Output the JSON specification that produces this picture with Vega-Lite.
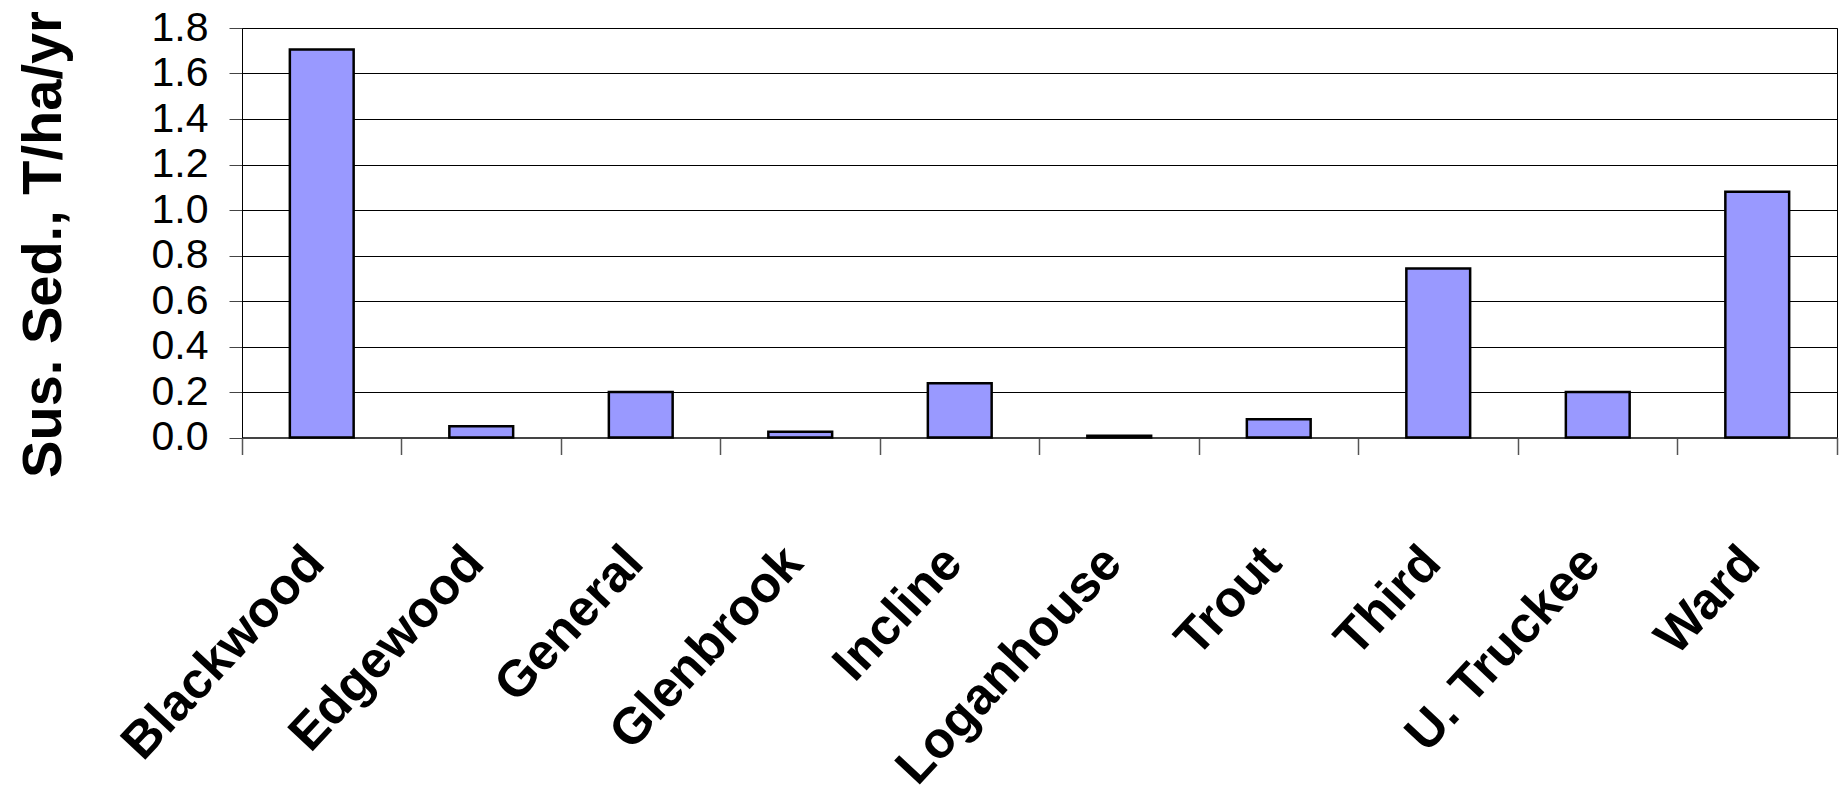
{
  "$schema": "https://vega.github.io/schema/vega-lite/v6.json",
  "width": 1595,
  "height": 409.5,
  "autosize": "none",
  "padding": {"left": 242, "top": 28, "right": 9, "bottom": 362.5},
  "background": "white",
  "view": {"stroke": "black", "strokeWidth": 1},
  "data": {
    "values": [
      {"site": "Blackwood", "value": 1.705},
      {"site": "Edgewood", "value": 0.05},
      {"site": "General", "value": 0.2},
      {"site": "Glenbrook", "value": 0.025},
      {"site": "Incline", "value": 0.238},
      {"site": "Loganhouse", "value": 0.008},
      {"site": "Trout", "value": 0.08},
      {"site": "Third", "value": 0.743},
      {"site": "U. Truckee", "value": 0.2},
      {"site": "Ward", "value": 1.08}
    ]
  },
  "mark": {"type": "bar", "fill": "#9999FF", "stroke": "black", "strokeWidth": 2.5, "width": {"band": 0.4}},
  "encoding": {
    "x": {
      "field": "site",
      "type": "nominal",
      "sort": null,
      "scale": {"paddingInner": 0, "paddingOuter": 0},
      "axis": {
        "title": null,
        "bandPosition": 1,
        "tickExtra": true,
        "tickSize": 17,
        "tickColor": "#555555",
        "tickWidth": 1.5,
        "domainColor": "#444444",
        "domainWidth": 2,
        "labelAngle": -47,
        "labelAlign": "right",
        "labelBaseline": "middle",
        "labelFont": "Liberation Sans",
        "labelFontWeight": "bold",
        "labelFontSize": 51,
        "labelColor": "black",
        "labelPadding": 100,
        "labelOffset": -6,
        "labelOverlap": false,
        "labelLimit": 1000
      }
    },
    "y": {
      "field": "value",
      "type": "quantitative",
      "scale": {"domain": [0, 1.8], "nice": false},
      "axis": {
        "values": [0, 0.2, 0.4, 0.6, 0.8, 1.0, 1.2, 1.4, 1.6, 1.8],
        "format": ".1f",
        "grid": true,
        "gridColor": "black",
        "gridWidth": 1,
        "tickSize": 13,
        "tickColor": "#444444",
        "domainColor": "black",
        "labelFont": "Liberation Sans",
        "labelFontSize": 41,
        "labelColor": "black",
        "labelPadding": 21,
        "labelBaseline": "middle",
        "title": "Sus. Sed., T/ha/yr",
        "titleFont": "Liberation Sans",
        "titleFontWeight": "bold",
        "titleFontSize": 56,
        "titleColor": "black",
        "titleAngle": -90,
        "titleX": -199,
        "titleY": 216,
        "titleAlign": "center",
        "titleBaseline": "middle"
      }
    }
  }
}
